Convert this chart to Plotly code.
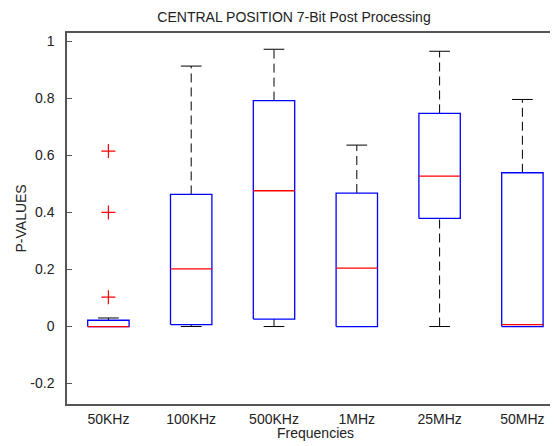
import plotly.graph_objects as go

# ---- data ----
categories = ["50KHz", "100KHz", "500KHz", "1MHz", "25MHz", "50MHz"]
lower_whisker = [0.0, 0.0, 0.0, 0.0, 0.0, 0.0]
q1 = [0.0, 0.007, 0.026, 0.0, 0.379, 0.0]
median = [0.0, 0.202, 0.476, 0.205, 0.527, 0.007]
q3 = [0.022, 0.463, 0.792, 0.468, 0.747, 0.539]
upper_whisker = [0.03, 0.913, 0.972, 0.636, 0.965, 0.796]
outlier_group = [0, 0, 0]
outlier_values = [0.615, 0.40, 0.103]
y_tick_vals = [-0.2, 0, 0.2, 0.4, 0.6, 0.8, 1]
y_tick_text = ["-0.2", "0", "0.2", "0.4", "0.6", "0.8", "1"]

title_text = "CENTRAL POSITION 7-Bit Post Processing"
x_label = "Frequencies"
y_label = "P-VALUES"

FONT = "Liberation Sans, Arial, Helvetica, sans-serif"
TXT = "#222222"
BOX_HALF = 0.25
CAP_HALF = 0.125

# the page body has an 8px default margin; the figure is sized so that
# it ends exactly at the 558x446 window edge
W, H = 550, 438

pos = [i + 1 for i in range(len(categories))]

fig = go.Figure()

# whiskers (dashed)
wx, wy = [], []
for p, lo, a, b, hi in zip(pos, lower_whisker, q1, q3, upper_whisker):
    wx += [p, p, None, p, p, None]
    wy += [b, hi, None, lo, a, None]
fig.add_trace(go.Scatter(x=wx, y=wy, mode="lines",
                         line=dict(color="black", width=1, dash="9px,5px"),
                         hoverinfo="skip", showlegend=False))

# caps
cx, cy = [], []
for p, lo, hi in zip(pos, lower_whisker, upper_whisker):
    cx += [p - CAP_HALF, p + CAP_HALF, None, p - CAP_HALF, p + CAP_HALF, None]
    cy += [hi, hi, None, lo, lo, None]
fig.add_trace(go.Scatter(x=cx, y=cy, mode="lines",
                         line=dict(color="black", width=1),
                         hoverinfo="skip", showlegend=False))

# boxes
bx, by = [], []
for p, a, b in zip(pos, q1, q3):
    bx += [p - BOX_HALF, p + BOX_HALF, p + BOX_HALF, p - BOX_HALF, p - BOX_HALF, None]
    by += [a, a, b, b, a, None]
fig.add_trace(go.Scatter(x=bx, y=by, mode="lines",
                         line=dict(color="#0000ff", width=1.3),
                         hoverinfo="skip", showlegend=False))

# medians
mx, my = [], []
for p, m in zip(pos, median):
    mx += [p - BOX_HALF, p + BOX_HALF, None]
    my += [m, m, None]
fig.add_trace(go.Scatter(x=mx, y=my, mode="lines",
                         line=dict(color="#ff0000", width=1.3),
                         hoverinfo="skip", showlegend=False))

# outliers
fig.add_trace(go.Scatter(x=[pos[g] for g in outlier_group], y=outlier_values,
                         mode="markers",
                         marker=dict(symbol="cross-thin", size=10,
                                     line=dict(color="#ff0000", width=1.2)),
                         hoverinfo="skip", showlegend=False))

fig.update_layout(
    width=W, height=H,
    margin=dict(l=59, r=0, t=25, b=42),
    paper_bgcolor="white", plot_bgcolor="white",
    font=dict(family=FONT, size=14, color=TXT),
    title=dict(text=title_text, x=286 / W, xref="container", xanchor="center",
               y=1 - 9 / H, yref="container", yanchor="middle",
               font=dict(family=FONT, size=14, color=TXT)),
    annotations=[
        dict(text=x_label, x=sum(pos) / len(pos), xref="x", y=0, yref="paper",
             yanchor="middle", xanchor="center", yshift=-29, showarrow=False,
             font=dict(family=FONT, size=14, color=TXT)),
        dict(text=y_label, x=0, xref="paper", y=0.5, yref="paper",
             xanchor="center", yanchor="middle", xshift=-47, textangle=-90,
             showarrow=False, font=dict(family=FONT, size=14, color=TXT)),
    ],
)

fig.update_xaxes(
    range=[0.5, 6.43], tickvals=pos, ticktext=categories,
    showgrid=False, zeroline=False, ticks="",
    showline=True, linecolor="#555555", linewidth=1.5, mirror=True,
    ticklabelstandoff=1,
    tickfont=dict(family=FONT, size=14, color=TXT),
)
fig.update_yaxes(
    range=[-0.2716, 1.029], tickvals=y_tick_vals, ticktext=y_tick_text,
    showgrid=False, zeroline=False, ticks="inside", ticklen=5,
    tickcolor="#555555", tickwidth=1,
    showline=True, linecolor="#555555", linewidth=1.5, mirror=False,
    ticklabelstandoff=8,
    tickfont=dict(family=FONT, size=14, color=TXT),
)

fig.write_html("out.html")
